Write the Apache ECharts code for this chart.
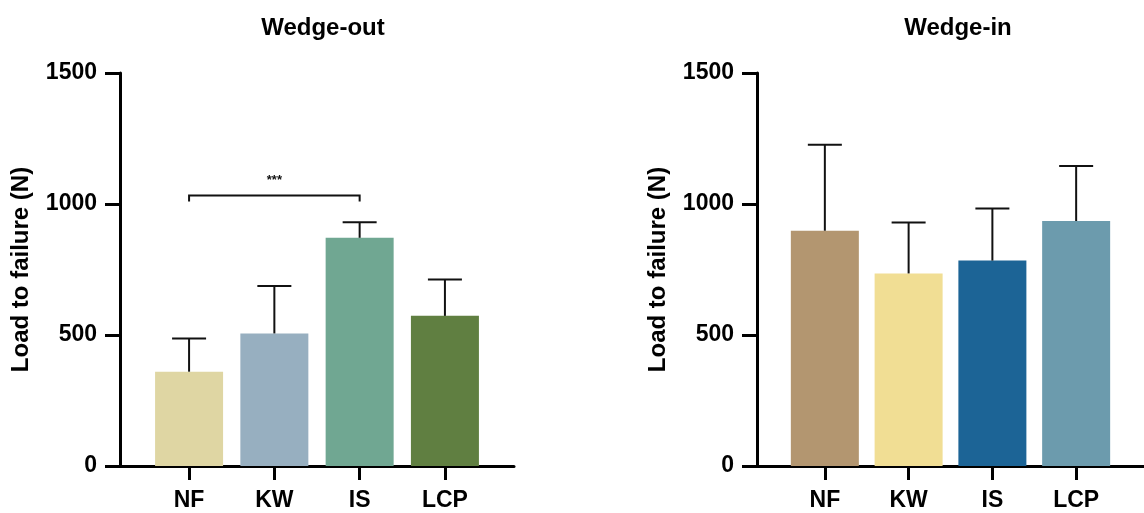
<!DOCTYPE html>
<html>
<head>
<meta charset="utf-8">
<script src="https://cdn.jsdelivr.net/npm/echarts@6/dist/echarts.min.js"></script>
<style>html,body{margin:0;padding:0;background:#fff}#c{width:1144px;height:513px}</style>
</head>
<body>
<div id="c"></div>
<script>
const categories = ['NF', 'KW', 'IS', 'LCP'];
const yTicks = [0, 500, 1000, 1500];
const outMeans = [360, 506, 871, 573];
const outSD = [127, 181, 59, 139];
const inMeans = [898, 735, 784, 935];
const inSD = [328, 194, 199, 210];
const outSig = [[0, 2, 1032, '***']];
const titles = ['Wedge-out', 'Wedge-in'];
const outColors = ['#dfd6a3', '#97afc0', '#70a792', '#607f41'];
const inColors = ['#b39670', '#f1de94', '#1c6496', '#6c9bad'];

const FONT = "'Liberation Sans', Arial, Helvetica, sans-serif";
const chart = echarts.init(document.getElementById('c'), null, {renderer: 'canvas'});

function xAxisDef(gi) {
  return {
    type: 'value', gridIndex: gi, min: -0.81, max: 3.81,
    splitLine: {show: false},
    axisLine: {show: true, onZero: false, lineStyle: {color: '#000', width: 3}},
    axisTick: {show: true, customValues: categories.map((c, i) => i), length: 14, lineStyle: {color: '#000', width: 3}},
    axisLabel: {show: true, customValues: categories.map((c, i) => i), formatter: v => categories[Math.round(v)] || '',
      color: '#000', fontSize: 23, fontWeight: 'bold', fontFamily: FONT, margin: 23}
  };
}
function yAxisDef(gi) {
  return {
    type: 'value', gridIndex: gi, min: yTicks[0], max: yTicks[yTicks.length - 1], interval: 500,
    splitLine: {show: false},
    axisLine: {show: true, onZero: false, lineStyle: {color: '#000', width: 3}},
    axisTick: {show: true, length: 15, lineStyle: {color: '#000', width: 3}},
    axisLabel: {color: '#000', fontSize: 23, fontWeight: 'bold', fontFamily: FONT, margin: 23,
      formatter: v => String(v)},
    name: 'Load to failure (N)', nameLocation: 'middle', nameRotate: 90, nameGap: 87,
    nameTextStyle: {color: '#000', fontSize: 24, fontWeight: 'bold', fontFamily: FONT}
  };
}
function barSeries(gi, means, colors) {
  return {
    type: 'bar', xAxisIndex: gi, yAxisIndex: gi, barWidth: 68,
    data: means.map((m, i) => ({value: [i, m], itemStyle: {color: colors[i]}})),
    silent: true, animation: false
  };
}
function errSeries(gi, means, sds) {
  return {
    type: 'custom', xAxisIndex: gi, yAxisIndex: gi, animation: false, silent: true, z: 3,
    data: means.map((m, i) => [i, m, m + sds[i]]),
    renderItem: function (params, api) {
      const p0 = api.coord([api.value(0), api.value(1)]);
      const p1 = api.coord([api.value(0), api.value(2)]);
      const half = 17;
      const st = {stroke: '#111', lineWidth: 2, fill: null};
      return {type: 'group', children: [
        {type: 'line', shape: {x1: p0[0], y1: p0[1], x2: p1[0], y2: p1[1]}, style: st},
        {type: 'line', shape: {x1: p1[0] - half, y1: p1[1], x2: p1[0] + half, y2: p1[1]}, style: st}
      ]};
    }
  };
}
function sigSeries(gi, sig) {
  return {
    type: 'custom', xAxisIndex: gi, yAxisIndex: gi, animation: false, silent: true, z: 4,
    data: sig.map(s => [s[0], s[1], s[2], s[3]]),
    renderItem: function (params, api) {
      const a = api.coord([api.value(0), api.value(2)]);
      const b = api.coord([api.value(1), api.value(2)]);
      const drop = 6;
      const st = {stroke: '#111', lineWidth: 2, fill: null};
      return {type: 'group', children: [
        {type: 'polyline', shape: {points: [[a[0], a[1] + drop], [a[0], a[1]], [b[0], b[1]], [b[0], b[1] + drop]]}, style: st},
        {type: 'text', style: {text: sig[params.dataIndex][3], x: (a[0] + b[0]) / 2, y: a[1] - 15,
          align: 'center', verticalAlign: 'middle', fill: '#111', font: 'bold 13px ' + FONT}}
      ]};
    }
  };
}

chart.setOption({
  backgroundColor: '#fff',
  animation: false,
  title: [
    {text: titles[0], left: 318, top: 11, textAlign: 'center',
      textStyle: {color: '#000', fontSize: 24, fontWeight: 'bold', fontFamily: FONT}},
    {text: titles[1], left: 953, top: 11, textAlign: 'center',
      textStyle: {color: '#000', fontSize: 24, fontWeight: 'bold', fontFamily: FONT}}
  ],
  grid: [
    {left: 120, top: 73, width: 394, height: 393},
    {left: 757, top: 73, width: 394, height: 393}
  ],
  xAxis: [xAxisDef(0), xAxisDef(1)],
  yAxis: [yAxisDef(0), yAxisDef(1)],
  series: [
    barSeries(0, outMeans, outColors),
    errSeries(0, outMeans, outSD),
    sigSeries(0, outSig),
    barSeries(1, inMeans, inColors),
    errSeries(1, inMeans, inSD)
  ]
});
</script>
</body>
</html>
